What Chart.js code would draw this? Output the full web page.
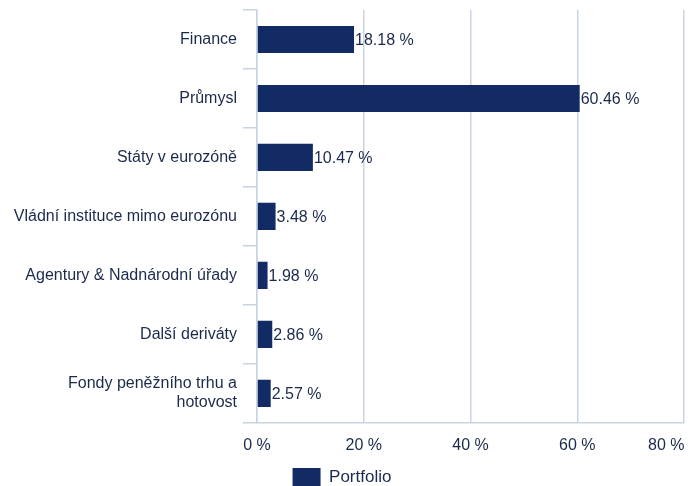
<!DOCTYPE html>
<html>
<head>
<meta charset="utf-8">
<script src="https://cdn.jsdelivr.net/npm/chart.js@4"></script>
<style>
  body { margin: 0; background: #fff; }
</style>
</head>
<body>
<canvas id="sectorChart" width="697" height="486"></canvas>
<script>
// categories and values
const categories = [
  'Finance',
  'Průmysl',
  'Státy v eurozóně',
  'Vládní instituce mimo eurozónu',
  'Agentury & Nadnárodní úřady',
  'Další deriváty',
  ['Fondy peněžního trhu a', 'hotovost']
];
const portfolio = [18.18, 60.46, 10.47, 3.48, 1.98, 2.86, 2.57];
const xTicks = [0, 20, 40, 60, 80];

const navy = '#132b65';
const textColor = '#1b2a4b';
const gridColor = '#c8d3e3';
const fontFamily = '"Liberation Sans", Arial, Helvetica, sans-serif';

// writes "xx.xx %" right after the end of each bar
const valueLabels = {
  id: 'valueLabels',
  afterDatasetsDraw(chart) {
    const ctx = chart.ctx;
    const meta = chart.getDatasetMeta(0);
    ctx.save();
    ctx.font = '16px ' + fontFamily;
    ctx.fillStyle = textColor;
    ctx.textAlign = 'left';
    ctx.textBaseline = 'middle';
    meta.data.forEach((bar, i) => {
      const v = chart.data.datasets[0].data[i];
      ctx.fillText(v.toFixed(2) + ' %', bar.x + 1, bar.y + 1);
    });
    ctx.restore();
  }
};

const config = {
  type: 'bar',
  data: {
    labels: categories,
    datasets: [{
      label: 'Portfolio',
      data: portfolio,
      backgroundColor: navy,
      borderWidth: 0,
      categoryPercentage: 0.5,
      barPercentage: 0.92
    }]
  },
  options: {
    indexAxis: 'y',
    responsive: false,
    animation: false,
    layout: { padding: { top: 10, right: 13, left: 0, bottom: -10 } },
    scales: {
      x: {
        min: 0,
        max: 80,
        afterBuildTicks: (scale) => {
          scale.ticks = xTicks.map(v => ({ value: v }));
        },
        afterFit: (scale) => {
          scale.paddingLeft = 0;
          scale.paddingRight = 0;
        },
        grid: {
          color: gridColor,
          lineWidth: 1.5,
          drawTicks: false
        },
        border: { color: gridColor, width: 1.5 },
        ticks: {
          color: textColor,
          font: { size: 16, family: fontFamily },
          padding: 13,
          // last label sits flush left of its gridline, like the original
          callback: (v) => v === 80 ? v + ' %' + '\u00a0'.repeat(8) : v + ' %'
        }
      },
      y: {
        afterFit: (scale) => {
          scale.width = 257;
          scale.paddingTop = 0;
          scale.paddingBottom = 0;
        },
        grid: {
          color: gridColor,
          lineWidth: 1.5,
          drawOnChartArea: false,
          drawTicks: true,
          tickLength: 14
        },
        border: { color: gridColor, width: 1.5 },
        ticks: {
          color: textColor,
          font: { size: 16, family: fontFamily },
          padding: 6
        }
      }
    },
    plugins: {
      legend: {
        position: 'bottom',
        labels: {
          color: textColor,
          font: { size: 17, family: fontFamily },
          boxWidth: 28,
          boxHeight: 18,
          padding: 0
        }
      },
      tooltip: { enabled: false }
    }
  },
  plugins: [valueLabels]
};

new Chart(document.getElementById('sectorChart'), config);
</script>
</body>
</html>
